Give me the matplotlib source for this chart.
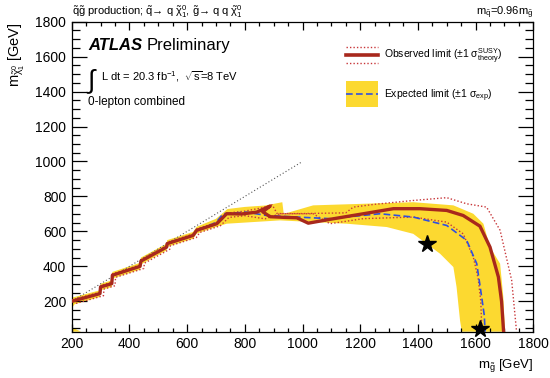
import matplotlib
matplotlib.use("Agg")
from matplotlib import pyplot as plt
from matplotlib.lines import Line2D
from matplotlib.patches import Rectangle

plt.rcParams["font.family"] = ["Liberation Sans", "DejaVu Sans"]
plt.rcParams["mathtext.fontset"] = "custom"
plt.rcParams["mathtext.rm"] = "Liberation Sans"
plt.rcParams["mathtext.it"] = "Liberation Sans"
plt.rcParams["mathtext.bf"] = "Liberation Sans:bold"

# --- data (GeV) ---
# observed limit (thick red)
obs_x = [200, 298, 300, 339, 341, 437, 440, 529, 531, 621, 633, 703, 737, 790, 841, 888,
         862, 888, 940, 980, 1020, 1095, 1211, 1315, 1407, 1500, 1557, 1615, 1650, 1679,
         1690, 1697]
obs_y = [200, 244, 282, 301, 349, 400, 430, 510, 530, 577, 606, 644, 701, 700, 710, 745,
         712, 684, 680, 678, 647, 669, 701, 730, 730, 720, 691, 630, 510, 339, 200, 26]

# observed +1 sigma theory (dotted)
thu_x = [200, 298, 300, 339, 341, 437, 440, 529, 531, 621, 633, 703, 745, 800, 860, 895,
         912, 1000, 1150, 1176, 1245, 1384, 1500, 1569, 1638, 1685, 1725, 1742]
thu_y = [208, 252, 290, 309, 357, 408, 438, 518, 538, 585, 614, 652, 706, 716, 735, 752,
         702, 702, 706, 739, 754, 777, 793, 758, 739, 606, 320, 26]

# observed -1 sigma theory (dotted)
thd_x = [215, 310, 312, 350, 352, 450, 452, 540, 542, 632, 644, 715, 745, 800, 870, 922,
         1037, 1095, 1211, 1384, 1500, 1557, 1592, 1609, 1618, 1622]
thd_y = [188, 232, 270, 289, 337, 388, 418, 498, 518, 565, 594, 632, 680, 690, 672, 701,
         701, 644, 673, 682, 653, 586, 453, 330, 200, 26]

# expected limit (blue dashed)
exp_x = [200, 298, 300, 339, 341, 437, 440, 529, 531, 621, 633, 700, 725, 806, 876, 980,
         1095, 1269, 1384, 1500, 1569, 1604, 1621, 1630, 1633]
exp_y = [200, 244, 282, 301, 349, 400, 430, 510, 530, 577, 606, 650, 701, 710, 691, 682,
         673, 701, 682, 634, 549, 415, 225, 120, 26]

# expected +-1 sigma band (yellow): upper edge, lower edge
bu_x = [200, 298, 300, 339, 341, 437, 440, 529, 531, 621, 633, 700, 740, 800, 870, 930,
        935, 1037, 1211, 1384, 1523, 1592, 1627, 1650, 1685, 1696, 1702]
bu_y = [220, 263, 300, 320, 368, 420, 450, 530, 550, 597, 626, 672, 728, 740, 748, 767,
        700, 749, 758, 767, 749, 701, 644, 510, 415, 225, 26]
bl_x = [200, 210, 298, 300, 339, 341, 437, 440, 529, 531, 621, 633, 700, 737, 922, 1153,
        1292, 1384, 1477, 1523, 1534, 1546, 1552]
bl_y = [160, 183, 225, 263, 282, 330, 381, 411, 491, 511, 558, 587, 625, 644, 663, 644,
        625, 586, 472, 396, 282, 91, 26]

# kinematic line and benchmark stars
diag_x = [200, 1000]
diag_y = [200, 1000]
star_x = [1430, 1614]
star_y = [530, 42]

C_BAND = "#FCD930"
C_OBS = "#A8281C"
C_THEO = "#C8373A"
C_EXP = "#2F4FE0"

W, H = 550, 378


def px(x, y):
    # pixel position in the reference -> figure fraction
    return x / W, 1 - y / H


fig = plt.figure(figsize=(5.5, 3.78), dpi=100)
ax = fig.add_axes([71.7 / W, 1 - 331.7 / H, (533.3 - 71.7) / W, (331.7 - 21.7) / H])

ax.fill(bu_x + bl_x[::-1], bu_y + bl_y[::-1], color=C_BAND, lw=0, zorder=1)
ax.fill([200, 200, 232], [26, 52, 26], color=C_BAND, lw=0, zorder=1)
ax.plot(diag_x, diag_y, color="#555555", ls=(0, (1, 2)), lw=0.8, zorder=2)
ax.plot(thu_x, thu_y, color=C_THEO, ls=(0, (1, 1.5)), lw=1.0, zorder=3)
ax.plot(thd_x, thd_y, color=C_THEO, ls=(0, (1, 1.5)), lw=1.0, zorder=3)
ax.plot(exp_x, exp_y, color=C_EXP, ls=(0, (4, 2)), lw=1.2, zorder=4)
ax.plot(obs_x, obs_y, color=C_OBS, lw=2.4, solid_joinstyle="round", zorder=5)
ax.plot(star_x, star_y, ls="none", marker="*", ms=13, color="black", zorder=6,
        clip_on=False)

ax.set_xlim(200, 1800)
ax.set_ylim(26, 1800)
ax.set_xticks(range(200, 1801, 200))
ax.set_yticks(range(200, 1801, 200))
ax.set_xticks(range(250, 1800, 50), minor=True)
ax.set_yticks(range(50, 1800, 50), minor=True)
ax.tick_params(which="both", direction="in", top=True, right=True, labelsize=10,
               width=0.9, pad=4)
ax.tick_params(axis="x", which="major", length=6)
ax.tick_params(axis="x", which="minor", length=3)
ax.tick_params(axis="y", which="major", length=11)
ax.tick_params(axis="y", which="minor", length=5.5)
for s in ax.spines.values():
    s.set_linewidth(0.9)

# axis titles, ROOT style (aligned to the end of the axis)
fig.text(*px(533, 368), r"$m_{\tilde{g}}$ [GeV]", ha="right", va="baseline", fontsize=9.5)
fig.text(*px(17, 22), r"$m_{\tilde{\chi}^{0}_{1}}$ [GeV]", ha="center", va="top",
         rotation=90, fontsize=10.5)

# header texts
fig.text(*px(72, 15), r"$\tilde{q}\tilde{g}$ production; $\tilde{q}$→ q "
         r"$\tilde{\chi}^{0}_{1}$, $\tilde{g}$→ q q $\tilde{\chi}^{0}_{1}$",
         ha="left", va="baseline", fontsize=8)
fig.text(*px(533, 15), r"m$_{\tilde{q}}$=0.96m$_{\tilde{g}}$", ha="right",
         va="baseline", fontsize=8)

# ATLAS label
t = fig.text(*px(88, 50), "ATLAS", ha="left", va="baseline", fontsize=12,
             fontweight="bold", fontstyle="italic")
fig.canvas.draw()
bb = t.get_window_extent()
fig.text(bb.x1 / fig.bbox.width + 5 / W, 1 - 50 / H, "Preliminary", ha="left",
         va="baseline", fontsize=12)
fig.text(*px(86, 88), r"$\int$", ha="left", va="baseline", fontsize=19)
fig.text(*px(101, 81), r"L dt = 20.3 fb$^{-1}$,  $\sqrt{\rm s}$=8 TeV", ha="left",
         va="baseline", fontsize=8)
fig.text(*px(88, 105), "0-lepton combined", ha="left", va="baseline", fontsize=8.5)

# legend drawn by hand
lx0, lx1 = 346, 378
for yy in (47, 63):
    fig.add_artist(Line2D([lx0 / W, lx1 / W], [1 - yy / H] * 2, color=C_THEO,
                          ls=(0, (1, 1.5)), lw=1.0))
fig.add_artist(Line2D([lx0 / W, lx1 / W], [1 - 55 / H] * 2, color=C_OBS, lw=2.6))
fig.text(*px(384, 59), r"Observed limit ($\pm$1 $\sigma^{\rm SUSY}_{\rm theory}$)",
         ha="left", va="baseline", fontsize=7.5)
fig.add_artist(Rectangle(px(lx0, 107), (lx1 - lx0) / W, 26 / H, color=C_BAND, lw=0,
                         transform=fig.transFigure))
fig.add_artist(Line2D([lx0 / W, lx1 / W], [1 - 94 / H] * 2, color=C_EXP,
                      ls=(0, (4, 2)), lw=1.2))
fig.text(*px(384, 98), r"Expected limit ($\pm$1 $\sigma_{\rm exp}$)", ha="left",
         va="baseline", fontsize=7.5)

fig.savefig("out.png", dpi=100)
